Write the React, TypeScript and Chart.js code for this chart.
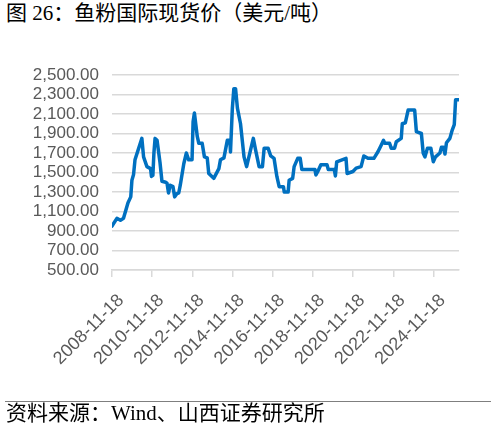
import { useEffect, useRef } from 'react';
import { Chart, registerables } from 'chart.js';

Chart.register(...registerables);

// 鱼粉国际现货价（美元/吨），
const dates = [
  '2008-11-18', '2009-02-15', '2009-04-20', '2009-06-15', '2009-09-05', '2009-10-25',
  '2009-11-15', '2009-12-15', '2010-01-10', '2010-05-15', '2010-06-15', '2010-08-15',
  '2010-10-20', '2010-11-05', '2010-12-01', '2010-12-20', '2011-01-10', '2011-02-15',
  '2011-04-10', '2011-05-15', '2011-07-20', '2011-08-15', '2011-09-12', '2011-10-12',
  '2011-12-01', '2012-01-01', '2012-02-05', '2012-03-15', '2012-04-12', '2012-06-15',
  '2012-08-01', '2012-09-12', '2012-11-12', '2012-12-01', '2012-12-25', '2013-02-15',
  '2013-03-15', '2013-05-15', '2013-06-25', '2013-08-15', '2013-09-12', '2013-12-12',
  '2014-03-15', '2014-04-12', '2014-06-15', '2014-08-15', '2014-10-01', '2014-10-12',
  '2014-11-15', '2014-12-12', '2015-01-12', '2015-02-15', '2015-04-12', '2015-06-15',
  '2015-08-01', '2015-09-12', '2015-12-01', '2016-01-12', '2016-03-15', '2016-05-15',
  '2016-06-15', '2016-08-25', '2016-10-12', '2016-12-12', '2017-02-01', '2017-03-15',
  '2017-06-01', '2017-06-15', '2017-08-25', '2017-09-12', '2017-11-15', '2017-12-12',
  '2018-02-15', '2018-04-01', '2018-05-01', '2018-12-25', '2019-01-12', '2019-02-15',
  '2019-04-12', '2019-08-01', '2019-08-25', '2019-12-12', '2020-01-01', '2020-01-25',
  '2020-07-12', '2020-08-01', '2020-11-15', '2021-01-12', '2021-04-12', '2021-06-01',
  '2021-08-15', '2021-12-01', '2022-02-15', '2022-04-12', '2022-05-25', '2022-06-15',
  '2022-09-12', '2022-10-12', '2022-12-12', '2023-01-12', '2023-04-12', '2023-05-01',
  '2023-06-25', '2023-08-15', '2023-12-12', '2024-01-12', '2024-04-12', '2024-05-15',
  '2024-06-15', '2024-08-01', '2024-10-01', '2024-11-15', '2024-12-25', '2025-03-15',
  '2025-04-12', '2025-05-15', '2025-06-15', '2025-07-12', '2025-09-12', '2025-10-25',
  '2025-12-01', '2025-12-25', '2026-02-25',
];

const prices = [
  950, 1030, 1010, 1030, 1190, 1250,
  1420, 1480, 1630, 1850, 1660, 1560,
  1540, 1460, 1470, 1700, 1850, 1830,
  1600, 1410, 1400, 1390, 1290, 1370,
  1355, 1250, 1280, 1290, 1370, 1590,
  1700, 1630, 1630, 2020, 2110, 1870,
  1800, 1800, 1660, 1650, 1490, 1440,
  1540, 1630, 1650, 1830, 1830, 1710,
  2160, 2360, 2360, 2160, 2000, 1660,
  1560, 1660, 1850, 1730, 1560, 1560,
  1750, 1750, 1670, 1645, 1460, 1355,
  1355, 1300, 1300, 1420, 1440, 1560,
  1645, 1645, 1530, 1530, 1475, 1510,
  1580, 1580, 1530, 1530, 1465, 1610,
  1645, 1490, 1510, 1545, 1560, 1670,
  1645, 1645, 1715, 1780, 1830, 1800,
  1800, 1750, 1750, 1815, 1850, 2000,
  2010, 2140, 2140, 1920, 1900, 1700,
  1660, 1750, 1750, 1610, 1660, 1700,
  1760, 1760, 1690, 1805, 1850, 1935,
  1990, 2245, 2245,
];

const tickDates = [
  '2008-11-18', '2010-11-18', '2012-11-18', '2014-11-18', '2016-11-18',
  '2018-11-18', '2020-11-18', '2022-11-18', '2024-11-18',
];

const toMs = (d: string) => Date.parse(d + 'T00:00:00Z');
const fmtDate = (ms: number) => new Date(ms).toISOString().slice(0, 10);

const textFont = '"Liberation Serif", "Noto Sans CJK SC", serif';
const axisFont = 'Liberation Sans, Arial, sans-serif';

export default function App() {
  const canvasRef = useRef<HTMLCanvasElement>(null);
  const chartRef = useRef<Chart | null>(null);

  useEffect(() => {
    if (!canvasRef.current) return;
    if (chartRef.current) chartRef.current.destroy();

    const points = dates.map((d, i) => ({ x: toMs(d), y: prices[i] }));

    chartRef.current = new Chart(canvasRef.current, {
      type: 'line',
      data: {
        datasets: [{
          data: points,
          borderColor: '#0070C0',
          borderWidth: 3.5,
          pointRadius: 0,
          tension: 0,
          borderJoinStyle: 'round',
          borderCapStyle: 'round',
        }],
      },
      options: {
        animation: false,
        responsive: false,
        maintainAspectRatio: false,
        layout: { padding: { top: 75, left: 0, right: 37, bottom: 51 } },
        plugins: { legend: { display: false }, tooltip: { enabled: false } },
        scales: {
          x: {
            type: 'linear',
            min: toMs(dates[0]),
            max: toMs(dates[dates.length - 1]),
            afterBuildTicks: (scale) => {
              scale.ticks = tickDates.map(d => ({ value: toMs(d) }));
            },
            afterFit: (scale) => { scale.height = 110; },
            ticks: {
              callback: (v) => fmtDate(Number(v)),
              autoSkip: false,
              minRotation: 45,
              maxRotation: 45,
              labelOffset: 9,
              color: '#595959',
              padding: 13,
              font: { family: axisFont, size: 18 },
            },
            grid: {
              drawOnChartArea: false,
              drawTicks: true,
              tickLength: 7,
              color: '#d9d9d9',
              lineWidth: 1.5,
            },
            border: { display: true, color: '#d9d9d9', width: 1.5 },
          },
          y: {
            min: 500,
            max: 2500,
            afterFit: (scale) => { scale.width = 112; },
            ticks: {
              stepSize: 200,
              autoSkip: false,
              padding: 13,
              color: '#595959',
              font: { family: axisFont, size: 17 },
              callback: (v) => Number(v).toLocaleString('en-US', { minimumFractionDigits: 2, maximumFractionDigits: 2 }),
            },
            grid: { color: '#d9d9d9', lineWidth: 1.5, drawTicks: false },
            border: { display: false },
          },
        },
      },
    });

    return () => {
      if (chartRef.current) {
        chartRef.current.destroy();
        chartRef.current = null;
      }
    };
  }, []);

  return (
    <div style={{ position: 'fixed', left: 0, top: 0, width: 496, height: 431, background: '#fff', overflow: 'hidden' }}>
      <div style={{
        position: 'absolute', left: 6, top: 0, lineHeight: '27px', fontSize: 21, color: '#000',
        fontFamily: textFont, whiteSpace: 'nowrap',
      }}>
        图 26：鱼粉国际现货价（美元/吨）
      </div>
      <canvas ref={canvasRef} width={496} height={431} style={{ position: 'absolute', left: 0, top: 0, width: 496, height: 431 }} />
      <div style={{ position: 'absolute', left: 5, width: 486, top: 401, borderTop: '1.5px solid #7f7f7f' }} />
      <div style={{
        position: 'absolute', left: 6, top: 400, lineHeight: '27px', fontSize: 21, color: '#000',
        fontFamily: textFont, whiteSpace: 'nowrap',
      }}>
        资料来源：Wind、山西证券研究所
      </div>
    </div>
  );
}
